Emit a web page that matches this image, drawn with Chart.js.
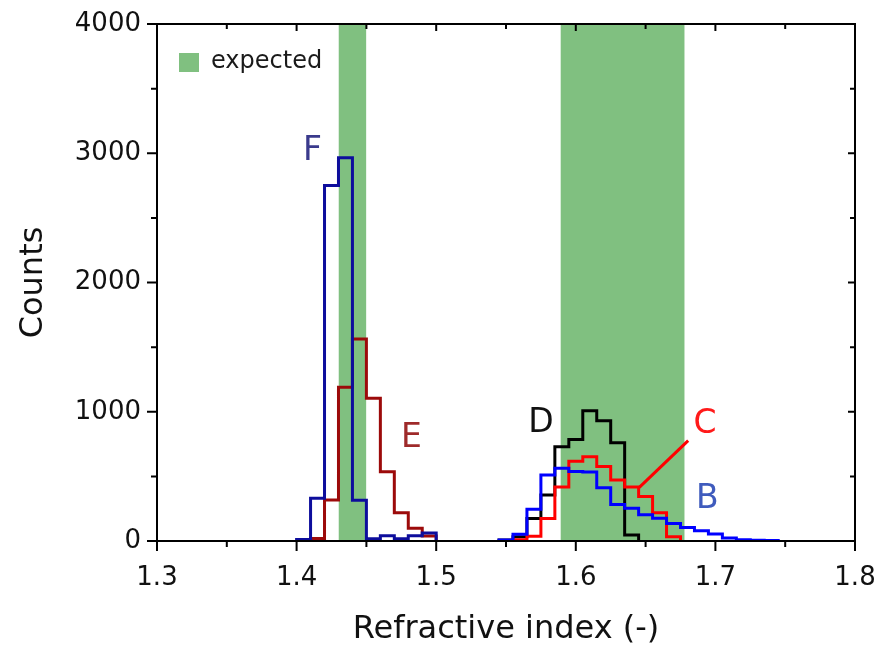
<!DOCTYPE html>
<html>
<head>
<meta charset="utf-8">
<script src="https://cdn.jsdelivr.net/npm/chart.js@4/dist/chart.umd.min.js"></script>
<style>
  html, body { margin: 0; padding: 0; background: #ffffff; }
  #wrap { width: 892px; height: 649px; }
</style>
</head>
<body>
<div id="wrap"><canvas id="c" width="892" height="649"></canvas></div>
<script>
// ---------- data ----------
const xTickLabels = ['1.3', '1.4', '1.5', '1.6', '1.7', '1.8'];
const yTickLabels = ['0', '1000', '2000', '3000', '4000'];

const expectedLow  = [1.43, 1.589];
const expectedHigh = [1.45, 1.678];

// histogram bin edges (n+1) and counts (n)
const edgesF  = [1.40, 1.41, 1.42, 1.43, 1.44, 1.45, 1.46, 1.47, 1.48, 1.49, 1.50];
const countsF = [12, 330, 2750, 2965, 315, 18, 40, 18, 40, 62];

const edgesE  = [1.41, 1.42, 1.43, 1.44, 1.45, 1.46, 1.47, 1.48, 1.49, 1.50];
const countsE = [20, 317, 1190, 1562, 1104, 536, 219, 98, 39];

const edgesD  = [1.545, 1.555, 1.565, 1.575, 1.585, 1.595, 1.605, 1.615, 1.625, 1.635, 1.645];
const countsD = [8, 33, 175, 355, 729, 785, 1007, 930, 760, 46];

const edgesC  = [1.555, 1.565, 1.575, 1.585, 1.595, 1.605, 1.615, 1.625, 1.635, 1.645, 1.655, 1.665, 1.675];
const countsC = [10, 36, 175, 418, 617, 651, 577, 471, 418, 345, 219, 33];

const edgesB  = [1.545, 1.555, 1.565, 1.575, 1.585, 1.595, 1.605, 1.615, 1.625, 1.635, 1.645,
                 1.655, 1.665, 1.675, 1.685, 1.695, 1.705, 1.715, 1.725, 1.735, 1.745];
const countsB = [8, 52, 245, 510, 562, 537, 533, 412, 282, 253, 204, 176, 136, 104, 80, 54, 24, 10, 6, 3];

// pointer line from label C to histogram C
const pointerCx = [1.6805, 1.6455];
const pointerCy = [776, 415];

// series labels
const labelNames  = ['F', 'E', 'D', 'C', 'B'];
const labelX      = [1.4114, 1.4823, 1.5751, 1.6926, 1.6943];
const labelY      = [3013, 793, 913, 901, 320];
const labelColors = ['#3a3a8c', '#9e2a2a', '#111111', '#ff1a1a', '#3f5bbd'];

const legendText = 'expected';

// ---------- helpers ----------
function histPoints(edges, counts) {
  const pts = [{ x: edges[0], y: 0 }];
  for (let i = 0; i < counts.length; i++) pts.push({ x: edges[i], y: counts[i] });
  pts.push({ x: edges[edges.length - 1], y: 0 });
  return pts;
}
function histDataset(edges, counts, color) {
  return {
    data: histPoints(edges, counts),
    borderColor: color,
    borderWidth: 3,
    stepped: 'before',
    pointRadius: 0,
    fill: false,
    borderJoinStyle: 'miter',
    borderCapStyle: 'butt',
    order: 1
  };
}
const GREEN = '#80c080';
function bandDataset(lo, hi) {
  return {
    data: [{ x: lo, y: 4000 }, { x: hi, y: 4000 }],
    borderWidth: 0,
    borderColor: 'rgba(0,0,0,0)',
    backgroundColor: GREEN,
    pointRadius: 0,
    fill: 'origin',
    order: 10
  };
}

const datasets = [];
datasets.push(histDataset(edgesF, countsF, '#0d0d9c'));
datasets.push(histDataset(edgesE, countsE, '#9c0a0a'));
datasets.push(histDataset(edgesB, countsB, '#0000ff'));
datasets.push(histDataset(edgesC, countsC, '#ff0000'));
datasets.push(histDataset(edgesD, countsD, '#000000'));
datasets.push({
  data: pointerCx.map((x, i) => ({ x: x, y: pointerCy[i] })),
  borderColor: '#ff0000', borderWidth: 3, pointRadius: 0, fill: false, order: 0
});
for (let i = 0; i < expectedLow.length; i++) datasets.push(bandDataset(expectedLow[i], expectedHigh[i]));

const FONT = "'DejaVu Sans', sans-serif";

const framePlugin = {
  id: 'frame',
  afterDatasetsDraw(chart) {
    const { ctx, chartArea: a, scales: { x, y } } = chart;
    ctx.save();
    ctx.strokeStyle = '#000';
    ctx.lineWidth = 2;
    ctx.strokeRect(a.left, a.top, a.right - a.left, a.bottom - a.top);
    ctx.beginPath();
    const xt = x.ticks.map(t => t.value);
    for (let i = 0; i < xt.length; i++) {
      const p = x.getPixelForValue(xt[i]);
      ctx.moveTo(p, a.bottom); ctx.lineTo(p, a.bottom + 10);
      ctx.moveTo(p, a.top); ctx.lineTo(p, a.top + 7);
      if (i < xt.length - 1) {
        const m = x.getPixelForValue((xt[i] + xt[i + 1]) / 2);
        ctx.moveTo(m, a.bottom); ctx.lineTo(m, a.bottom + 6);
        ctx.moveTo(m, a.top); ctx.lineTo(m, a.top + 5);
      }
    }
    const yt = y.ticks.map(t => t.value);
    for (let i = 0; i < yt.length; i++) {
      const p = y.getPixelForValue(yt[i]);
      ctx.moveTo(a.left, p); ctx.lineTo(a.left - 10, p);
      ctx.moveTo(a.right, p); ctx.lineTo(a.right - 7, p);
      if (i < yt.length - 1) {
        const m = y.getPixelForValue((yt[i] + yt[i + 1]) / 2);
        ctx.moveTo(a.left, m); ctx.lineTo(a.left - 6, m);
        ctx.moveTo(a.right, m); ctx.lineTo(a.right - 5, m);
      }
    }
    ctx.stroke();

    // series labels
    ctx.textAlign = 'center';
    ctx.textBaseline = 'middle';
    ctx.font = '33px ' + FONT;
    for (let i = 0; i < labelNames.length; i++) {
      ctx.fillStyle = labelColors[i];
      ctx.fillText(labelNames[i], x.getPixelForValue(labelX[i]), y.getPixelForValue(labelY[i]));
    }

    // legend
    ctx.fillStyle = GREEN;
    ctx.fillRect(a.left + 22, a.top + 29, 20, 19);
    ctx.fillStyle = '#1a1a1a';
    ctx.textAlign = 'left';
    ctx.font = '24px ' + FONT;
    ctx.fillText(legendText, a.left + 54, a.top + 38);
    ctx.restore();
  }
};

new Chart(document.getElementById('c'), {
  type: 'line',
  data: { datasets: datasets },
  options: {
    responsive: false,
    devicePixelRatio: 1,
    animation: false,
    layout: { padding: { left: 0, right: 37, top: 24, bottom: 0 } },
    plugins: { legend: { display: false }, tooltip: { enabled: false } },
    scales: {
      x: {
        type: 'linear',
        min: 1.3, max: 1.8,
        grid: { display: false, drawTicks: false },
        border: { display: false },
        ticks: {
          stepSize: 0.1,
          padding: 22,
          color: '#111',
          font: { family: FONT, size: 26 },
          callback: (v) => { const s = v.toFixed(1); return xTickLabels.includes(s) ? s : ''; }
        },
        title: {
          display: true, text: 'Refractive index (-)', color: '#111',
          font: { family: FONT, size: 32 }, padding: { top: 0, bottom: 0 }
        },
        afterFit: (s) => { s.height = 108; s.paddingLeft = 0; s.paddingRight = 0; }
      },
      y: {
        min: 0, max: 4000,
        grid: { display: false, drawTicks: false },
        border: { display: false },
        ticks: {
          stepSize: 1000,
          padding: 16,
          color: '#111',
          font: { family: FONT, size: 26 },
          callback: (v) => { const s = String(v); return yTickLabels.includes(s) ? s : ''; }
        },
        title: {
          display: true, text: 'Counts', color: '#111',
          font: { family: FONT, size: 32 }, padding: { top: 14, bottom: 0 }
        },
        afterFit: (s) => { s.width = 157; s.paddingTop = 0; s.paddingBottom = 0; }
      }
    }
  },
  plugins: [framePlugin]
});
</script>
</body>
</html>
